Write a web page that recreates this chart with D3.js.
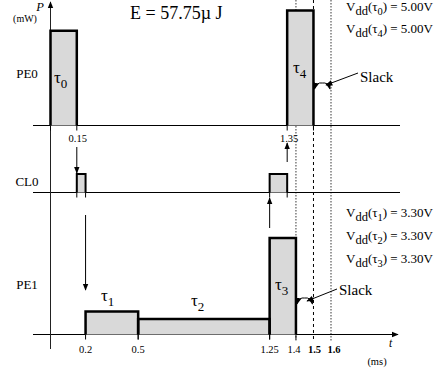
<!DOCTYPE html>
<html>
<head>
<meta charset="utf-8">
<script src="https://cdn.jsdelivr.net/npm/d3@7"></script>
<style>
  body { margin: 0; background: #fff; }
</style>
</head>
<body>
<svg id="chart" width="436" height="372"></svg>
<script>
// tasks (time in ms, power in mW)
const taskIds = [0, 1, 2, 3, 4]
const taskPE = ['PE0', 'PE1', 'PE1', 'PE1', 'PE0']
const taskStart = [0, 0.2, 0.5, 1.25, 1.35]
const taskEnd = [0.15, 0.5, 1.25, 1.4, 1.5]
const taskPower = [82.5, 20, 13.5, 84, 100]

// communications on the link
const commStart = [0.15, 1.25]
const commEnd = [0.2, 1.35]
const commPower = [16, 16]

const laneNames = ['PE0', 'CL0', 'PE1']
const xTicks = [0.2, 0.5, 1.25, 1.4, 1.5, 1.6]
const boldTicks = [1.5, 1.6]
const markerTimes = [1.4, 1.5, 1.6]

const vddTasks = [0, 4, 1, 2, 3]
const vddValues = ['5.00V', '5.00V', '3.30V', '3.30V', '3.30V']
const energyLabel = 'E = 57.75µ J'

const LANE_BASE = { PE0: 125.5, CL0: 192.5, PE1: 334.5 }
const FILL = '#d9d9d9'
const FONT = '"Liberation Serif", "DejaVu Serif", serif'

const svg = d3.select('#chart')
  .attr('font-family', FONT)

const x = d3.scaleLinear().domain([0, 1.6]).range([50.5, 331])
const h = d3.scaleLinear().domain([0, 100]).range([0, 115])

const defs = svg.append('defs')
defs.append('marker')
  .attr('id', 'head')
  .attr('viewBox', '0 0 10 10')
  .attr('refX', 9).attr('refY', 5)
  .attr('markerWidth', 7).attr('markerHeight', 7)
  .attr('markerUnits', 'userSpaceOnUse')
  .attr('orient', 'auto-start-reverse')
  .append('path')
  .attr('d', 'M0,1 L10,5 L0,9 Z')
  .attr('fill', '#000')

// vertical marker lines (deadline / slack)
svg.selectAll('line.marker')
  .data(markerTimes)
  .enter()
  .append('line')
  .attr('class', 'marker')
  .attr('x1', d => x(d)).attr('x2', d => x(d))
  .attr('y1', 0).attr('y2', 341)
  .attr('stroke', d => d === 1.5 ? '#000' : '#666')
  .attr('stroke-width', d => d === 1.5 ? 1 : 1.3)
  .attr('stroke-dasharray', d => d === 1.5 ? '3,3' : '1.5,1.5')

// lane baselines
laneNames.forEach(lane => {
  svg.append('line')
    .attr('x1', 33).attr('x2', lane === 'PE1' ? 398 : 400)
    .attr('y1', LANE_BASE[lane]).attr('y2', LANE_BASE[lane])
    .attr('stroke', '#000').attr('stroke-width', 1.2)
    .attr('marker-end', lane === 'PE1' ? 'url(#head)' : null)

  svg.append('text')
    .attr('x', 27).attr('y', LANE_BASE[lane] - (lane === 'PE1' ? 46 : lane === 'CL0' ? 7 : 48))
    .attr('text-anchor', 'middle')
    .attr('font-size', 13)
    .text(lane)
})

// y axis
svg.append('line')
  .attr('x1', 50.5).attr('x2', 50.5)
  .attr('y1', 349).attr('y2', 2)
  .attr('stroke', '#222').attr('stroke-width', 1)
  .attr('marker-end', 'url(#head)')

svg.append('text')
  .attr('x', 40).attr('y', 11)
  .attr('text-anchor', 'middle')
  .attr('font-size', 12.5).attr('font-style', 'italic')
  .text('P')
svg.append('text')
  .attr('x', 25).attr('y', 22)
  .attr('text-anchor', 'middle')
  .attr('font-size', 10)
  .text('(mW)')

// task blocks
const tasks = taskIds.map((id, i) => ({
  id, lane: taskPE[i], start: taskStart[i], end: taskEnd[i], power: taskPower[i]
}))
const comms = commStart.map((s, i) => ({
  id: 'c' + i, lane: 'CL0', start: s, end: commEnd[i], power: commPower[i]
}))

function drawBlocks (data, cls, strokeWidth) {
  svg.selectAll(`rect.${cls}`)
    .data(data)
    .enter()
    .append('rect')
    .attr('class', cls)
    .attr('x', d => x(d.start))
    .attr('y', d => LANE_BASE[d.lane] - h(d.power))
    .attr('width', d => x(d.end) - x(d.start))
    .attr('height', d => h(d.power))
    .attr('fill', FILL)

  svg.selectAll(`path.${cls}`)
    .data(data)
    .enter()
    .append('path')
    .attr('class', cls)
    .attr('d', d => {
      const b = LANE_BASE[d.lane]
      const t = b - h(d.power)
      return `M${x(d.start)},${b} V${t} H${x(d.end)} V${b}`
    })
    .attr('fill', 'none')
    .attr('stroke', '#000')
    .attr('stroke-width', strokeWidth)
}

drawBlocks(tasks, 'task', 2.5)
drawBlocks(comms, 'comm', 2)

// small ticks under block edges
const edgeTicks = []
tasks.concat(comms).forEach(d => {
  edgeTicks.push({ t: d.start, lane: d.lane })
  edgeTicks.push({ t: d.end, lane: d.lane })
})
svg.selectAll('line.edge')
  .data(edgeTicks)
  .enter()
  .append('line')
  .attr('class', 'edge')
  .attr('x1', d => x(d.t)).attr('x2', d => x(d.t))
  .attr('y1', d => LANE_BASE[d.lane])
  .attr('y2', d => LANE_BASE[d.lane] + 5)
  .attr('stroke', '#000').attr('stroke-width', 1)

// task labels
const tauPos = [[54, 83], [101, 301], [191, 306], [275, 290], [293, 73]]
tasks.forEach((d, i) => {
  const lbl = svg.append('text')
    .attr('x', tauPos[i][0]).attr('y', tauPos[i][1])
    .attr('font-size', 17)
  lbl.append('tspan').text('τ')
  lbl.append('tspan').attr('dy', 5).attr('font-size', 13).text(d.id)
})

// x tick labels
svg.selectAll('text.xtick')
  .data(xTicks)
  .enter()
  .append('text')
  .attr('class', 'xtick')
  .attr('x', d => x(d) + (d === 1.4 ? -2 : d === 1.5 ? 1 : d === 1.6 ? 3 : 0))
  .attr('y', 353)
  .attr('text-anchor', 'middle')
  .attr('font-size', 10.5)
  .attr('font-weight', d => boldTicks.includes(d) ? 'bold' : null)
  .text(d => d)

svg.append('text')
  .attr('x', 389).attr('y', 347)
  .attr('font-size', 11.5).attr('font-style', 'italic')
  .text('t')
svg.append('text')
  .attr('x', 377).attr('y', 365)
  .attr('text-anchor', 'middle')
  .attr('font-size', 10.5)
  .text('(ms)')

// time labels on the PE0 axis
const timeLabels = [{ t: 0.15, dx: 1 }, { t: 1.35, dx: 2 }]
svg.selectAll('text.tlabel')
  .data(timeLabels)
  .enter()
  .append('text')
  .attr('class', 'tlabel')
  .attr('x', d => x(d.t) + d.dx)
  .attr('y', 142)
  .attr('text-anchor', 'middle')
  .attr('font-size', 10.5)
  .text(d => d.t)

// dependency arrows
const arrows = [
  { t: 0.15, y1: 147, y2: 173 },
  { t: 0.2, y1: 215, y2: 290 },
  { t: 1.25, y1: 228, y2: 198 },
  { t: 1.35, y1: 162, y2: 143 }
]
svg.selectAll('line.dep')
  .data(arrows)
  .enter()
  .append('line')
  .attr('class', 'dep')
  .attr('x1', d => x(d.t)).attr('x2', d => x(d.t))
  .attr('y1', d => d.y1).attr('y2', d => d.y2)
  .attr('stroke', '#000').attr('stroke-width', 1)
  .attr('marker-end', 'url(#head)')

// energy
svg.append('text')
  .attr('x', 130).attr('y', 19)
  .attr('font-size', 18)
  .text(energyLabel)

// Vdd labels
const vddY = [11, 33, 217, 240, 263]
vddTasks.forEach((id, i) => {
  const txt = svg.append('text')
    .attr('x', 346).attr('y', vddY[i])
    .attr('font-size', 13)
  txt.append('tspan').text('V')
  txt.append('tspan').attr('dy', 4).attr('font-size', 12.5).text('dd')
  txt.append('tspan').attr('dy', -4).text('(τ')
  txt.append('tspan').attr('dy', 4).attr('font-size', 10.5).text(id)
  txt.append('tspan').attr('dy', -4).text(`) = ${vddValues[i]}`)
})

// slack annotations
const slacks = [
  { from: 1.5, to: 1.6, y: 89, text: [360, 82], line: [358, 73, 326, 85] },
  { from: 1.4, to: 1.5, y: 304, text: [339, 295], line: [337, 289, 307, 301] }
]
slacks.forEach(s => {
  const x0 = x(s.from)
  const x1 = x(s.to)
  svg.append('path')
    .attr('d', `M${(x0 + x1) / 2},${s.y - 6} Q${x0 + 3},${s.y - 7} ${x0 + 1},${s.y}`)
    .attr('fill', 'none').attr('stroke', '#000').attr('stroke-width', 1)
    .attr('marker-end', 'url(#head)')
  svg.append('path')
    .attr('d', `M${(x0 + x1) / 2},${s.y - 6} Q${x1 - 3},${s.y - 7} ${x1 - 1},${s.y}`)
    .attr('fill', 'none').attr('stroke', '#000').attr('stroke-width', 1)
    .attr('marker-end', 'url(#head)')
  svg.append('line')
    .attr('x1', s.line[0]).attr('y1', s.line[1])
    .attr('x2', s.line[2]).attr('y2', s.line[3])
    .attr('stroke', '#000').attr('stroke-width', 1)
    .attr('marker-end', 'url(#head)')
  svg.append('text')
    .attr('x', s.text[0]).attr('y', s.text[1])
    .attr('font-size', 15)
    .text('Slack')
})
</script>
</body>
</html>
